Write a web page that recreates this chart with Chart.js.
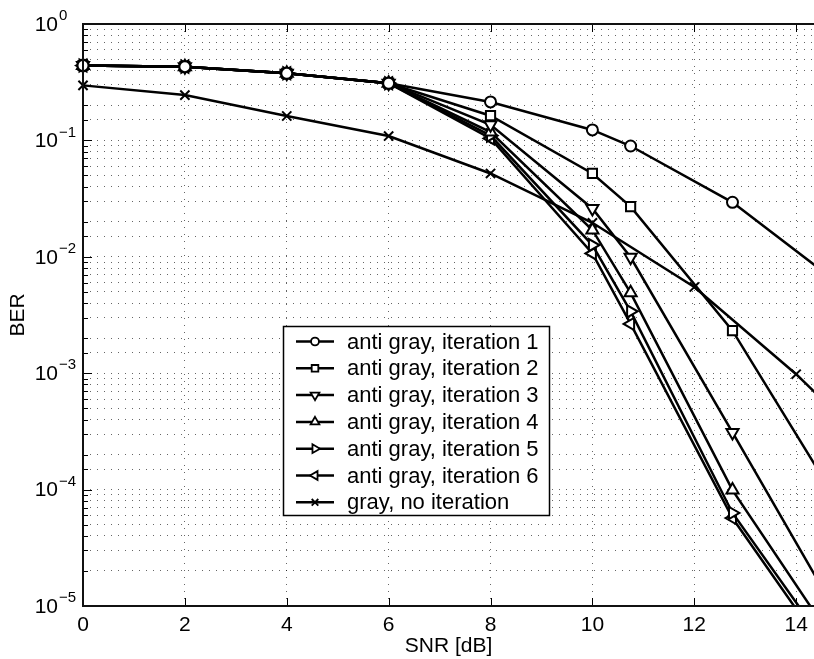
<!DOCTYPE html>
<html>
<head>
<meta charset="utf-8">
<title>BER vs SNR</title>
<script src="https://cdn.jsdelivr.net/npm/chart.js@4.4.0/dist/chart.umd.min.js"></script>
<style>
  html, body { margin: 0; padding: 0; background: #fff; }
  #wrap { width: 814px; height: 659px; position: relative; }
</style>
</head>
<body>
<div id="wrap"><canvas id="ber"></canvas></div>
<script>
// SNR points (dB); the anti gray runs and the gray reference use different grids
const snrAnti = [0, 2, 4, 6, 8, 10, 10.75, 12.75, 14.75];
const snrGray = [0, 2, 4, 6, 8, 10, 12, 14, 16];

// bit error rates
const berIter1 = [0.44, 0.43, 0.377, 0.31, 0.214, 0.123, 0.0895, 0.0294, 0.0063];
const berIter2 = [0.44, 0.43, 0.377, 0.31, 0.163, 0.052, 0.027, 0.00232, 8.7e-5];
const berIter3 = [0.44, 0.43, 0.377, 0.31, 0.136, 0.026, 0.0099, 3.1e-4, 9.4e-6];
const berIter4 = [0.44, 0.43, 0.377, 0.31, 0.118, 0.017, 0.0049, 9.9e-5, 4.9e-6];
const berIter5 = [0.44, 0.43, 0.377, 0.31, 0.110, 0.0126, 0.0034, 6.3e-5, 3.7e-6];
const berIter6 = [0.44, 0.43, 0.377, 0.31, 0.104, 0.0107, 0.00265, 5.7e-5, 3.2e-6];
const berGray  = [0.297, 0.245, 0.162, 0.109, 0.052, 0.0196, 0.0055, 0.00098, 1.4e-4];

const seriesLabels = [
  'anti gray, iteration 1',
  'anti gray, iteration 2',
  'anti gray, iteration 3',
  'anti gray, iteration 4',
  'anti gray, iteration 5',
  'anti gray, iteration 6',
  'gray, no iteration'
];

// axis ticks
const xTicks = [0, 2, 4, 6, 8, 10, 12, 14];
const yDecades = [1e-5, 1e-4, 1e-3, 1e-2, 1e-1, 1];

const FONT = "'Liberation Sans', Arial, Helvetica, sans-serif";

// marker per curve: style, rotation, radius
const markers = [
  { style: 'circle',   rot: 0,   r: 5.5 },
  { style: 'rect',     rot: 0,   r: 6.5 },
  { style: 'triangle', rot: 180, r: 7 },
  { style: 'triangle', rot: 0,   r: 7 },
  { style: 'triangle', rot: 90,  r: 7 },
  { style: 'triangle', rot: 270, r: 7 },
  { style: 'crossRot', rot: 0,   r: 6.5 }
];

const curves = [
  [snrAnti, berIter1],
  [snrAnti, berIter2],
  [snrAnti, berIter3],
  [snrAnti, berIter4],
  [snrAnti, berIter5],
  [snrAnti, berIter6],
  [snrGray, berGray]
];

const datasets = curves.map(([xs, ys], i) => ({
  label: seriesLabels[i],
  data: xs.map((x, j) => ({ x: x, y: ys[j] })),
  borderColor: '#000',
  borderWidth: 2.5,
  tension: 0,
  fill: false,
  pointStyle: markers[i].style,
  pointRotation: markers[i].rot,
  pointRadius: markers[i].r,
  pointBorderWidth: 2,
  pointBorderColor: '#000',
  pointBackgroundColor: '#fff',
  clip: { left: 10, top: 0, right: 0, bottom: 0 }
}));

function isDecade(v) {
  const l = Math.log10(v);
  return Math.abs(l - Math.round(l)) < 1e-9;
}

// box, inward ticks, power-of-ten labels and the legend
const matlabAxes = {
  id: 'matlabAxes',
  afterDatasetsDraw(chart) {
    const { ctx, chartArea: a, scales: { x, y } } = chart;
    ctx.save();

    const seg = (x1, y1, x2, y2) => {
      ctx.beginPath(); ctx.moveTo(x1, y1); ctx.lineTo(x2, y2); ctx.stroke();
    };

    // tick marks pointing into the plot
    ctx.strokeStyle = '#000';
    ctx.lineWidth = 1;
    y.ticks.forEach(t => {
      const py = Math.round(y.getPixelForValue(t.value)) + 0.5;
      seg(a.left, py, a.left + (isDecade(t.value) ? 9 : 5), py);
    });
    xTicks.forEach(v => {
      const px = Math.round(x.getPixelForValue(v)) + 0.5;
      seg(px, a.bottom, px, a.bottom - 8);
      seg(px, a.top, px, a.top + 8);
    });

    // axes box (right side runs off the canvas)
    ctx.lineWidth = 2;
    ctx.strokeStyle = '#111';
    seg(a.left, a.top, a.right + 2, a.top);
    seg(a.left, a.top - 1, a.left, a.bottom + 1);
    seg(a.left, a.bottom, a.right + 2, a.bottom);

    // y labels as 10^n
    ctx.fillStyle = '#000';
    yDecades.forEach(v => {
      const py = y.getPixelForValue(v);
      const e = Math.round(Math.log10(v));
      ctx.font = '21px ' + FONT;
      ctx.textAlign = 'right';
      ctx.textBaseline = 'middle';
      ctx.fillText('10', 58, py + 1);
      ctx.font = '15px ' + FONT;
      ctx.textAlign = 'left';
      ctx.fillText(e === 0 ? '0' : '\u2212' + Math.abs(e), 59, py - 8);
    });

    // legend
    const box = { l: 283, t: 326, r: 549, b: 515 };
    ctx.fillStyle = '#fff';
    ctx.fillRect(box.l, box.t, box.r - box.l, box.b - box.t);
    ctx.lineWidth = 1.5;
    ctx.strokeStyle = '#000';
    ctx.strokeRect(box.l + 0.5, box.t + 0.5, box.r - box.l, box.b - box.t);

    const rowH = 26.8;
    chart.data.datasets.forEach((ds, i) => {
      const cy = box.t + 15.5 + i * rowH;
      ctx.lineWidth = 2.5;
      ctx.strokeStyle = '#000';
      seg(296, cy, 334, cy);
      ctx.fillStyle = '#fff';
      ctx.lineWidth = 1.8;
      if (Chart.helpers && Chart.helpers.drawPoint) {
        Chart.helpers.drawPoint(ctx, {
          pointStyle: ds.pointStyle,
          rotation: ds.pointRotation,
          radius: ds.pointRadius * 0.72,
          borderWidth: 1.8
        }, 315, cy);
      }
      ctx.fillStyle = '#000';
      ctx.font = '22px ' + FONT;
      ctx.textAlign = 'left';
      ctx.textBaseline = 'middle';
      ctx.fillText(ds.label, 347, cy + 1);
    });

    ctx.restore();
  }
};

const gridStyle = {
  color: 'rgba(0,0,0,0.6)',
  lineWidth: 1,
  borderDash: [1, 6],
  drawTicks: false
};

new Chart(document.getElementById('ber'), {
  type: 'line',
  data: { datasets: datasets },
  options: {
    responsive: true,
    maintainAspectRatio: false,
    animation: false,
    layout: {
      autoPadding: false,
      padding: { top: 24, right: 0, left: 0, bottom: 0 }
    },
    plugins: {
      legend: { display: false },
      tooltip: { enabled: false }
    },
    scales: {
      x: {
        type: 'linear',
        min: 0,
        max: 14.35,
        afterFit: s => { s.height = 53; s.paddingLeft = 0; s.paddingRight = 0; },
        grid: gridStyle,
        border: { display: false, dash: [1, 6] },
        ticks: {
          stepSize: 2,
          includeBounds: false,
          autoSkip: false,
          maxRotation: 0,
          padding: 7,
          color: '#000',
          font: { family: FONT, size: 21 }
        },
        title: {
          display: true,
          text: 'SNR [dB]',
          color: '#000',
          font: { family: FONT, size: 21 },
          padding: { top: 0, bottom: 0 }
        }
      },
      y: {
        type: 'logarithmic',
        min: 1e-5,
        max: 1,
        afterFit: s => { s.width = 83; s.paddingTop = 0; s.paddingBottom = 0; },
        grid: gridStyle,
        border: { display: false, dash: [1, 6] },
        ticks: {
          autoSkip: false,
          callback: () => ''
        },
        title: {
          display: true,
          text: 'BER',
          color: '#000',
          font: { family: FONT, size: 21 },
          padding: { top: 6, bottom: 0 }
        }
      }
    }
  },
  plugins: [matlabAxes]
});
</script>
</body>
</html>
